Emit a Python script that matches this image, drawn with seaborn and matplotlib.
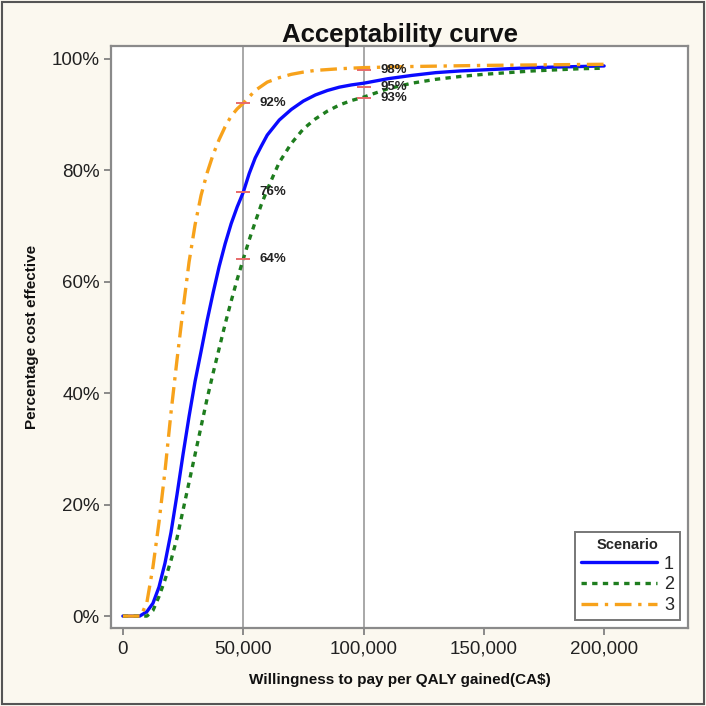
import matplotlib
matplotlib.use("Agg")
import matplotlib.pyplot as plt
import matplotlib.patches as mpatches
import matplotlib.ticker as mticker
from matplotlib.lines import Line2D
import seaborn as sns
import pandas as pd

# ---- data ----
wtp_1 = [0, 5000, 7000, 10000, 12500, 15000, 17500, 20000, 22500, 25000, 27500, 30000,
         32500, 35000, 37500, 40000, 42500, 45000, 47500, 50000, 52500, 55000, 57500,
         60000, 65000, 70000, 75000, 80000, 85000, 90000, 95000, 100000, 110000, 120000,
         130000, 140000, 150000, 160000, 170000, 180000, 190000, 200000]
pct_1 = [0, 0, 0, 0.8, 2.3, 5.2, 9.5, 15, 21.8, 29, 35.8, 42.1,
         47.5, 53, 58, 62.7, 66.8, 70.4, 73.4, 76, 79.4, 82.2, 84.3,
         86.3, 89.0, 90.9, 92.4, 93.5, 94.3, 94.9, 95.3, 95.6, 96.4, 97.0,
         97.5, 97.8, 98.0, 98.2, 98.4, 98.5, 98.6, 98.7]

wtp_2 = [0, 5000, 10000, 12500, 15000, 17500, 20000, 22500, 25000, 27500, 30000, 32500,
         35000, 37500, 40000, 42500, 45000, 47500, 50000, 52500, 55000, 57500, 60000,
         62500, 65000, 70000, 75000, 80000, 85000, 90000, 95000, 100000, 110000, 120000,
         130000, 140000, 150000, 160000, 170000, 180000, 190000, 200000]
pct_2 = [0, 0, 0, 1.0, 3.5, 6.5, 10, 14, 19, 24, 29, 34,
         39, 43.6, 48, 52.4, 56.5, 60.4, 64, 67.5, 70.7, 73.8, 76.5,
         79, 81.4, 84.8, 87.4, 89.2, 90.6, 91.7, 92.5, 93.1, 94.6, 95.6,
         96.3, 96.8, 97.2, 97.5, 97.8, 98.0, 98.2, 98.3]

wtp_3 = [0, 5000, 7500, 10000, 12500, 15000, 17500, 20000, 22500, 25000, 27500, 30000,
         32500, 35000, 37500, 40000, 42500, 45000, 47500, 50000, 55000, 60000, 65000,
         70000, 75000, 80000, 90000, 100000, 120000, 150000, 175000, 200000]
pct_3 = [0, 0, 0, 2.5, 8.8, 16.8, 26, 36.5, 46, 55, 63.5, 70.2,
         75.5, 79.5, 82.8, 85.5, 87.8, 89.7, 91, 92, 94.3, 95.8, 96.6,
         97.2, 97.6, 97.9, 98.2, 98.4, 98.6, 98.8, 98.9, 99.0]

scenarios = ["1", "2", "3"]
colors = {"1": "#0a0aff", "2": "#1e7d1e", "3": "#f7a21b"}

# annotated points at the two thresholds
mark_x = [50000, 50000, 50000, 100000, 100000, 100000]
mark_y = [92, 76, 64, 98, 95, 93]
mark_lbl = ["92%", "76%", "64%", "98%", "95%", "93%"]

x_ticks = [0, 50000, 100000, 150000, 200000]
y_ticks = [0, 20, 40, 60, 80, 100]

title = "Acceptability curve"
xlabel = "Willingness to pay per QALY gained(CA$)"
ylabel = "Percentage cost effective"

df = pd.concat([
    pd.DataFrame({"wtp": wtp_1, "pct": pct_1, "Scenario": "1"}),
    pd.DataFrame({"wtp": wtp_2, "pct": pct_2, "Scenario": "2"}),
    pd.DataFrame({"wtp": wtp_3, "pct": pct_3, "Scenario": "3"}),
], ignore_index=True)

# ---- styling ----
sns.set_style("white")
plt.rcParams["font.family"] = ["Liberation Sans", "DejaVu Sans"]

bg = "#fbf8ef"
fig = plt.figure(figsize=(7.06, 7.06), dpi=100, facecolor=bg)
ax = fig.add_axes([0.157, 0.110, 0.818, 0.825])
ax.set_facecolor("white")

dash_styles = {"1": "", "2": (1.6, 1.6), "3": (5, 2, 1, 2)}

sns.lineplot(data=df, x="wtp", y="pct", hue="Scenario", style="Scenario",
             hue_order=scenarios, style_order=scenarios,
             palette=colors, dashes=dash_styles, linewidth=2.4,
             legend=False, ax=ax, zorder=3)

# vertical reference lines
for xv in [50000, 100000]:
    ax.axvline(xv, color="#9a9a9a", lw=1.2, zorder=1)

# red markers and labels
ax.scatter(mark_x, mark_y, marker="_", s=110, color="#e86a6a", linewidths=1.4, zorder=4)
for xv, yv, t in zip(mark_x, mark_y, mark_lbl):
    ax.annotate(t, (xv, yv), xytext=(12, 0), textcoords="offset points",
                ha="left", va="center", fontsize=9.5, fontweight="bold",
                color="#222222", zorder=5)

ax.set_xlim(-5000, 235000)
ax.set_ylim(-2.2, 102.3)
ax.set_xticks(x_ticks)
ax.set_yticks(y_ticks)
ax.xaxis.set_major_formatter(mticker.FuncFormatter(lambda v, p: f"{v:,.0f}"))
ax.yaxis.set_major_formatter(mticker.FuncFormatter(lambda v, p: f"{v:.0f}%"))
ax.tick_params(axis="both", which="major", length=5, width=1.2, color="#777777",
               labelsize=13.5, labelcolor="#222222", pad=3, direction="out",
               bottom=True, left=True)
ax.tick_params(axis="x", pad=4)
for s in ax.spines.values():
    s.set_color("#8a8a8a")
    s.set_linewidth(1.6)

ax.set_title(title, fontsize=18.5, fontweight="bold", pad=3, color="#111111")
ax.set_xlabel(xlabel, fontsize=11, fontweight="bold", labelpad=11, color="#111111")
ax.set_ylabel(ylabel, fontsize=11, fontweight="bold", labelpad=9, color="#111111")

# legend
handles = [Line2D([0], [0], color=colors[s], lw=2.4,
                  linestyle="-" if s == "1" else (0, dash_styles[s])) for s in scenarios]
leg = ax.legend(handles, scenarios, title="Scenario", loc="lower right",
                fontsize=13, title_fontproperties={"weight": "bold", "size": 10.5},
                handlelength=4.2, handletextpad=0.4, labelspacing=0.2,
                borderaxespad=0.45, borderpad=0.35, frameon=True, fancybox=False,
                edgecolor="#777777", framealpha=1)
leg.get_frame().set_linewidth(1.4)
leg.set_zorder(6)

# outer border of the figure
fig.patches.append(mpatches.Rectangle((0.003, 0.003), 0.994, 0.994, transform=fig.transFigure,
                                      fill=False, edgecolor="#555555", lw=1.5))

fig.savefig("out.png", dpi=100, facecolor=bg)
